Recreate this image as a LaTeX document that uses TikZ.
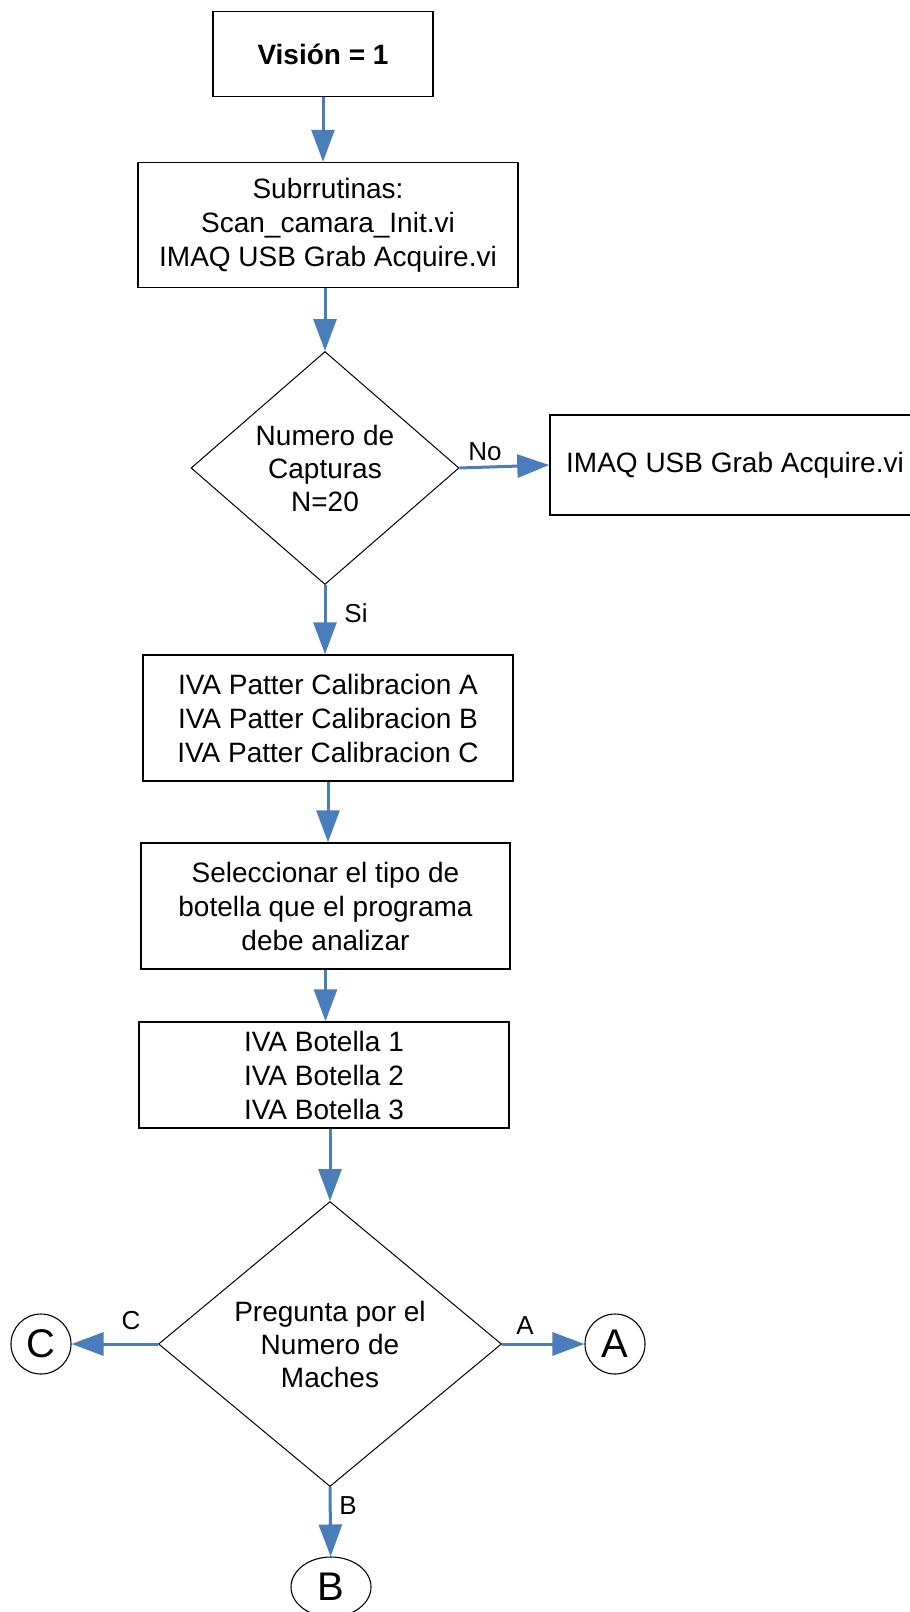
\documentclass[tikz,border=0pt]{standalone}
\usepackage{fontspec}
\setmainfont{Liberation Sans}
\usetikzlibrary{arrows.meta,shapes.geometric}
\definecolor{azul}{RGB}{74,126,187}

\begin{document}
\begin{tikzpicture}[x=1pt,y=-1pt,
  caja/.style={draw=black,line width=1.5pt,align=center,inner sep=0pt,
    font=\fontsize{28}{34}\selectfont},
  rombo/.style={draw=black,line width=1pt,diamond,align=center,inner sep=0pt,
    font=\fontsize{28}{33}\selectfont},
  conector/.style={draw=black,line width=1.1pt,inner sep=0pt,
    font=\fontsize{40}{40}\selectfont},
  flecha/.style={draw=azul,line width=3pt,-{Triangle[length=32pt,width=23pt]}},
  etiq/.style={inner sep=0pt,font=\fontsize{26}{30}\selectfont}]
  \useasboundingbox (0,0) rectangle (910,1612);
  \node[caja,font=\bfseries\fontsize{28}{34}\selectfont,minimum width=220pt,minimum height=85pt] (vision) at (323,54) {Visión = 1};
  \node[caja,minimum width=380pt,minimum height=125pt] (subr) at (328,225) {Subrrutinas:\\Scan\_camara\_Init.vi\\IMAQ USB Grab Acquire.vi};
  \node[rombo,minimum width=268pt,minimum height=233pt] (capt) at (325,468) {Numero de\\Capturas\\N=20};
  \node[caja,minimum width=370pt,minimum height=100pt] (grab) at (735,465) {IMAQ USB Grab Acquire.vi};
  \node[caja,minimum width=370pt,minimum height=126pt] (patter) at (328,718) {IVA Patter Calibracion A\\IVA Patter Calibracion B\\IVA Patter Calibracion C};
  \node[caja,minimum width=369pt,minimum height=126pt] (selec) at (325.5,906) {Seleccionar el tipo de\\botella que el programa\\debe analizar};
  \node[caja,minimum width=370pt,minimum height=106pt] (botella) at (324,1075) {IVA Botella 1\\IVA Botella 2\\IVA Botella 3};
  \node[rombo,minimum width=343pt,minimum height=285pt] (maches) at (330,1344) {Pregunta por el\\Numero de\\Maches};
  \node[conector,circle,minimum size=60pt] (cC) at (41,1344) {C};
  \node[conector,circle,minimum size=60pt] (cA) at (615,1344) {A};
  \node[conector,ellipse,minimum width=80pt,minimum height=60pt] (cB) at (331,1587) {B};
  \draw[flecha] (vision.south) -- (vision.south |- subr.north);
  \draw[flecha] (capt.north |- subr.south) -- (capt.north);
  \draw[flecha] (capt.east) -- (grab.west);
  \draw[flecha] (capt.south) -- (capt.south |- patter.north);
  \draw[flecha] (patter.south) -- (patter.south |- selec.north);
  \draw[flecha] (selec.south) -- (selec.south |- botella.north);
  \draw[flecha] (maches.north |- botella.south) -- (maches.north);
  \draw[flecha] (maches.west) -- (cC);
  \draw[flecha] (maches.east) -- (cA);
  \draw[flecha] (maches.south) -- (cB);
  \node[etiq] (lno) at (485,452) {No};
  \node[etiq] (lsi) at (356,613) {Si};
  \node[etiq] (lc) at (131,1321) {C};
  \node[etiq] (la) at (525,1326) {A};
  \node[etiq] (lb) at (348,1506) {B};
\end{tikzpicture}
\end{document}
